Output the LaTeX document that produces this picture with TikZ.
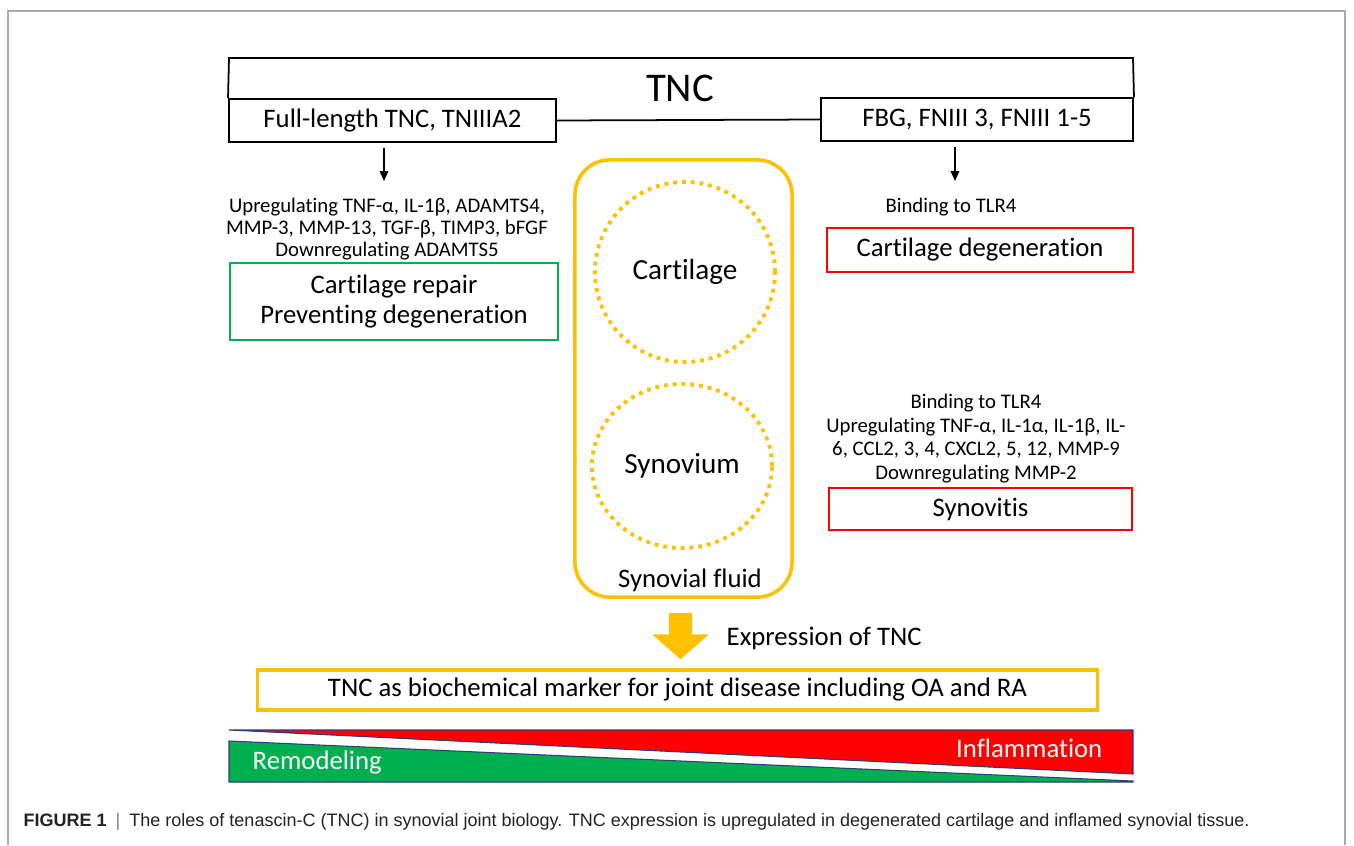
\documentclass[tikz,border=0pt]{standalone}
\usepackage{fontspec}
\setmainfont{Carlito}[Ligatures=NoCommon]
\newfontfamily\capfont{Liberation Sans}
\usepackage{xcolor}
\usepackage{tikz}
\usetikzlibrary{arrows.meta,positioning,calc,shapes.geometric}
\definecolor{tncorange}{HTML}{FFC000}
\definecolor{tncgreen}{HTML}{00B050}
\definecolor{tncred}{HTML}{FF0000}
\definecolor{barblue}{HTML}{2F3D7A}
\definecolor{framegray}{HTML}{AAAAAA}
\definecolor{capgray}{HTML}{222222}

\begin{document}
\begin{tikzpicture}[x=0.01cm, y=-0.01cm,
  every node/.style={font=\fontsize{7.6}{8.6}\selectfont, inner sep=0pt},
  tncbox/.style={draw, line width=0.5pt, minimum height=0.43cm},
  smalltext/.style={font=\fontsize{5.9}{6.3}\selectfont, align=center},
  outcome/.style={draw=#1, line width=0.7pt, align=center},
  dotring/.style={draw=tncorange, line width=1.1pt, dash pattern=on 1.1pt off 1.4pt},
  thinarrow/.style={-{Triangle[length=2.8pt,width=2.4pt]}, line width=0.5pt, shorten <=0.05cm},
  bigarrow/.style={-{Triangle[length=0.25cm,width=0.55cm]}, line width=0.23cm, tncorange}]
\useasboundingbox (0,0) rectangle (1354,845);
% page frame
\draw[framegray, line width=0.45pt] (8,845) -- (8,11) -- (1345,11) -- (1345,845);
% TNC domains
\node[tncbox, minimum width=3.27cm] (full) at (392.5,120.5) {Full-length TNC, TNIIIA2};
\node[tncbox, minimum width=3.12cm] (frag) at (977,119.5) {FBG, FNIII 3, FNIII 1-5};
\coordinate (topl) at (229,58);
\coordinate (topr) at (1133,58);
\draw[line width=0.5pt] (full.north west) -- (topl) -- (topr) -- (frag.north east);
\draw[line width=0.5pt] (full.east) -- (frag.west);
\node[font=\fontsize{11.6}{12}\selectfont] (tnc) at (680,88) {TNC};
% arrows down to the effects
\coordinate (ltip) at (384,181);
\coordinate (rtip) at (955,181);
\foreach \b/\t in {full/ltip, frag/rtip} {
  \draw[thinarrow] (\b.south -| \t) -- (\t);
}
% left: full-length TNC
\node[smalltext] (upl) at (387,229) {Upregulating TNF-α, IL-1β, ADAMTS4,\\MMP-3, MMP-13, TGF-β, TIMP3, bFGF\\Downregulating ADAMTS5};
\node[outcome=tncgreen, minimum width=3.28cm, minimum height=0.77cm, font=\fontsize{7.6}{8.5}\selectfont] (repair) at (394,301.5) {Cartilage repair\\Preventing degeneration};
% right: fragments
\node[smalltext] (bind) at (951,207) {Binding to TLR4};
\node[outcome=tncred, minimum width=3.06cm, minimum height=0.44cm] (degen) at (980,250) {Cartilage degeneration};
\node[smalltext, font=\fontsize{5.9}{6.7}\selectfont] (upr) at (976,438.5) {Binding to TLR4\\Upregulating TNF-α, IL-1α, IL-1β, IL-\\6, CCL2, 3, 4, CXCL2, 5, 12, MMP-9\\Downregulating MMP-2};
\node[outcome=tncred, minimum width=3.03cm, minimum height=0.42cm] (synovitis) at (980.5,509) {Synovitis};
% joint
\node[draw=tncorange, line width=1pt, rounded corners=0.35cm, minimum width=2.17cm, minimum height=4.37cm] (fluid) at (683.5,378.5) {};
\node (fluidlbl) at (690,580) {Synovial fluid};
\node[dotring, circle, minimum size=1.8cm, font=\fontsize{8.3}{9}\selectfont] (cart) at (685,272) {Cartilage};
\node[dotring, ellipse, minimum width=1.8cm, minimum height=1.64cm, font=\fontsize{8.3}{9}\selectfont] (syn) at (682,466) {Synovium};
% expression
\node[draw=tncorange, line width=0.9pt, minimum width=8.39cm, minimum height=0.4cm] (marker) at (677.5,690) {TNC as biochemical marker for joint disease including OA and RA};
\draw[bigarrow] ([xshift=-0.03cm, yshift=-0.14cm]fluid.south) -- ([xshift=0.03cm, yshift=0.09cm]marker.north);
\node[anchor=west] (expr) at (726,638) {Expression of TNC};
% remodeling / inflammation bar
\fill[tncred] (229,730) -- (1133,730) -- (1133,774) -- cycle;
\fill[tncgreen] (229,741) -- (1133,781) -- (1133,782) -- (229,782) -- cycle;
\draw[barblue, line width=0.3pt] (229,730) -- (1133,730) -- (1133,774) -- cycle;
\draw[barblue, line width=0.3pt] (229,741) -- (1133,781) -- (1133,782) -- (229,782) -- cycle;
\node[anchor=east, text=white] (inflam) at (1103,748) {Inflammation};
\node[anchor=west, text=white] (remod) at (252,763) {Remodeling};
% caption
\node[anchor=west, text=capgray, font=\capfont\fontsize{5.12}{5.5}\selectfont] (caption) at (23,822) {\textbf{FIGURE 1}\enspace{\color{gray}|}\enspace The roles of tenascin-C (TNC) in synovial joint biology. TNC expression is upregulated in degenerated cartilage and inflamed synovial tissue.};
\end{tikzpicture}
\end{document}
